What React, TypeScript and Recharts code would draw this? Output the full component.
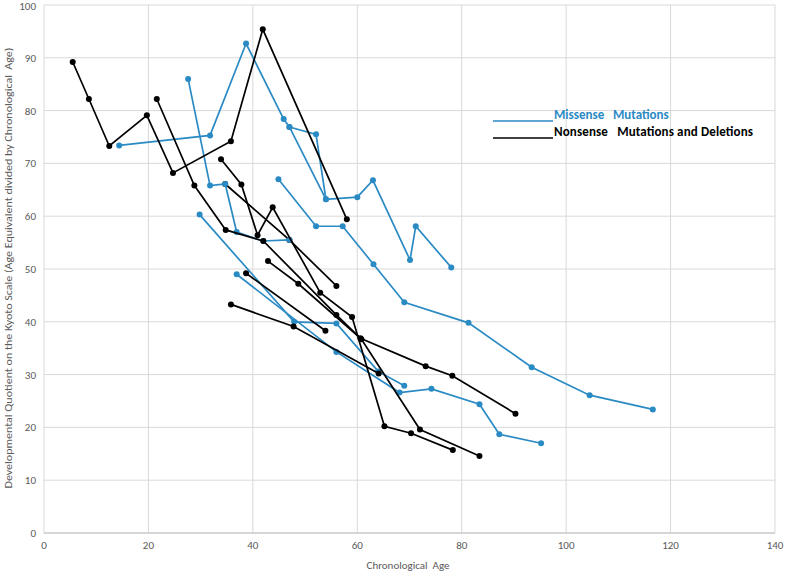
import { ScatterChart, Scatter, XAxis, YAxis, CartesianGrid } from 'recharts';

// one array per patient: [chronological age, DQ]
const missense1 = [[14.4, 73.4], [31.8, 75.3], [38.7, 92.7], [45.9, 78.4], [47, 76.9], [54, 63.2], [60, 63.6], [63, 66.8], [70.1, 51.7], [71.2, 58.1], [78, 50.3]];
const missense1b = [[47, 76.9], [52.1, 75.5], [54, 63.2]];
const missense2 = [[27.6, 86], [31.8, 65.8], [34.7, 66.1], [36.9, 57], [42, 55.3], [47, 55.5]];
const missense3 = [[29.8, 60.3], [47.9, 40], [56, 39.7], [64, 30.6], [69, 27.9]];
const missense4 = [[36.9, 49], [56, 34.3], [68.1, 26.6], [74.2, 27.3], [83.4, 24.4], [87.2, 18.7], [95.2, 17]];
const missense5 = [[44.9, 67], [52.1, 58.1], [57.2, 58.1], [63.1, 50.9], [69, 43.7], [81.3, 39.8], [93.4, 31.4], [104.5, 26.1], [116.6, 23.4]];

const nonsense1 = [[5.5, 89.2], [8.6, 82.2], [12.5, 73.3], [19.7, 79.1], [24.7, 68.2], [35.8, 74.2], [41.9, 95.4], [58, 59.4]];
const nonsense2 = [[21.6, 82.2], [28.8, 65.8], [34.8, 57.4], [42, 55.3], [56, 41.3], [60.8, 36.7], [72, 19.6], [83.4, 14.6]];
const nonsense3 = [[33.9, 70.8], [37.8, 66], [40.9, 56.4], [43.8, 61.7], [52.9, 45.5], [59, 40.9], [65.2, 20.2], [70.3, 18.9], [78.3, 15.7]];
const nonsense4 = [[34.7, 66.1], [47, 55.5], [56, 46.8]];
const nonsense5 = [[38.7, 49.2], [53.9, 38.3]];
const nonsense6 = [[42.9, 51.5], [48.7, 47.2], [60.6, 36.9], [73.1, 31.6], [78.2, 29.8], [90.3, 22.6]];
const nonsense7 = [[35.8, 43.3], [47.8, 39.1], [64.1, 30.2]];

const xTicks = [0, 20, 40, 60, 80, 100, 120, 140];
const yTicks = [0, 10, 20, 30, 40, 50, 60, 70, 80, 90, 100];

const BLUE = '#2a8ac4';
const BLACK = '#000000';
const FONT = 'Carlito, Lato, sans-serif';

const Y_TITLE = 'Developmental Quotient on the Kyoto Scale (Age Equivalent divided by Chronological\u00a0 Age)';

const toPts = (arr: number[][]) => arr.map(([age, dq]) => ({ age, dq }));

const blueSeries = [missense1, missense1b, missense2, missense3, missense4, missense5];
const blackSeries = [nonsense1, nonsense2, nonsense3, nonsense5, nonsense6, nonsense7];

const tick = { fill: '#595959', fontSize: 11, fontFamily: FONT };

const dot = (color: string) => (p: any) => <circle cx={p.cx} cy={p.cy} r={3} fill={color} />;

export default function App() {
  const series = (arr: number[][], color: string, key: string) => (
    <Scatter
      key={key}
      data={toPts(arr)}
      fill={color}
      line={{ stroke: color, strokeWidth: 1.7 }}
      lineType="joint"
      shape={dot(color)}
      isAnimationActive={false}
    />
  );

  return (
    <div style={{ position: 'absolute', left: 0, top: 0, width: 791, height: 572, background: '#fff', overflow: 'hidden' }}>
      <ScatterChart width={791} height={572} margin={{ top: 5, right: 16, bottom: 0, left: 0 }}>
        <CartesianGrid stroke="#d9d9d9" />
        <XAxis
          type="number" dataKey="age" domain={[0, 140]} ticks={xTicks} height={39}
          tickLine={false} axisLine={{ stroke: '#bfbfbf' }} tick={tick}
        />
        <YAxis
          type="number" dataKey="dq" domain={[0, 100]} ticks={yTicks} width={44}
          tickLine={false} axisLine={false} tick={tick}
        />
        {series(nonsense4, BLACK, 'n4')}
        {blueSeries.map((s, i) => series(s, BLUE, 'm' + i))}
        {blackSeries.map((s, i) => series(s, BLACK, 'n' + i))}
      </ScatterChart>
      <div
        style={{
          position: 'absolute', left: 9 - 250, top: 268 - 7, width: 500, height: 14, lineHeight: '14px',
          textAlign: 'center', transform: 'rotate(-90deg) scaleX(1.2)', whiteSpace: 'nowrap', fontSize: 10,
          color: '#595959', fontFamily: FONT,
        }}
      >
        {Y_TITLE}
      </div>
      <svg width={791} height={572} style={{ position: 'absolute', left: 0, top: 0, pointerEvents: 'none' }}>
        <text x={408} y={569} textAnchor="middle" fontSize={11} fill="#595959" fontFamily={FONT} xmlSpace="preserve">
          {'Chronological  Age'}
        </text>
        <line x1={493} x2={553} y1={121} y2={121} stroke={BLUE} strokeWidth={1.3} />
        <text x={554} y={119} fontSize={13} fontWeight={700} fill={BLUE} fontFamily={FONT} xmlSpace="preserve">
          {'Missense   Mutations'}
        </text>
        <line x1={493} x2={553} y1={138} y2={138} stroke={BLACK} strokeWidth={1.3} />
        <text
          x={554} y={136} fontSize={13} fontWeight={700} fill={BLACK} fontFamily={FONT}
          xmlSpace="preserve" textLength={199} lengthAdjust="spacing"
        >
          {'Nonsense   Mutations and Deletions'}
        </text>
      </svg>
    </div>
  );
}
